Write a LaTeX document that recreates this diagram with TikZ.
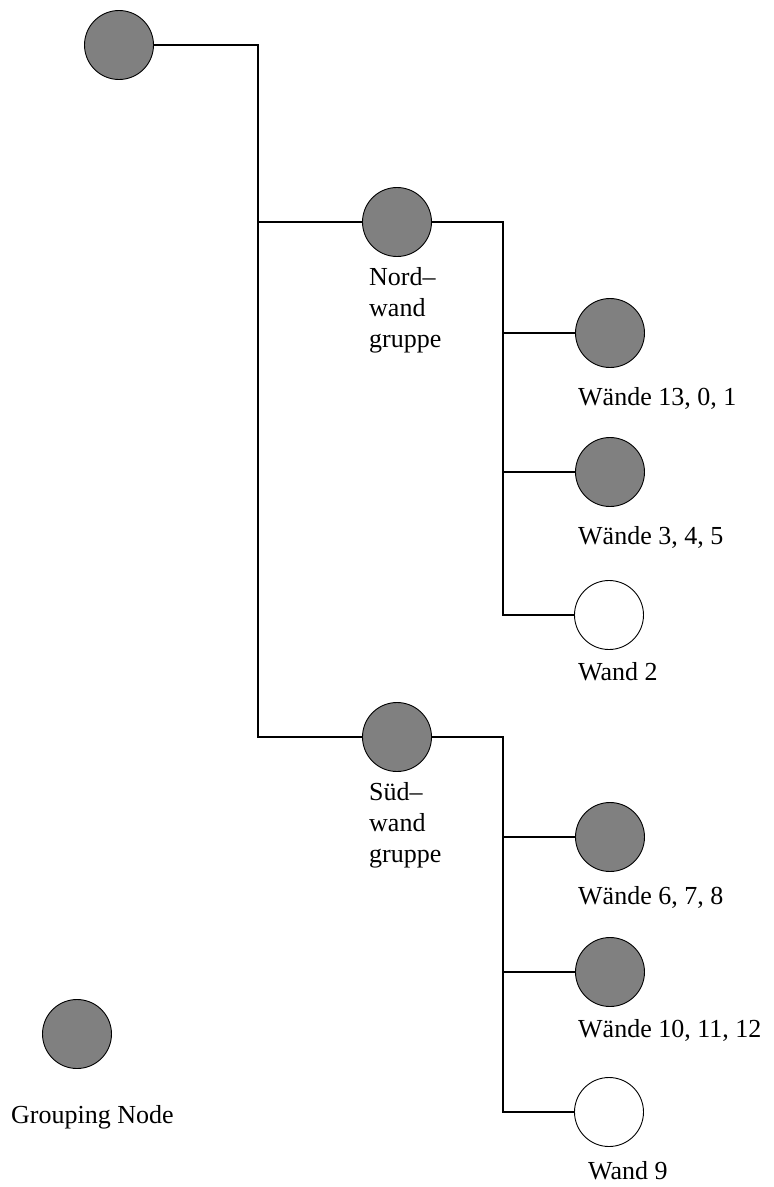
\documentclass[tikz,border=0pt]{standalone}
\usepackage{fontspec}
\setmainfont{Liberation Serif}
\begin{document}
\begin{tikzpicture}[x=1pt,y=-1pt,
  grp/.style={circle,draw=black,line width=0.9pt,fill=black!50,minimum size=69pt,inner sep=0pt},
  leaf/.style={circle,draw=black,line width=0.9pt,fill=white,minimum size=69pt,inner sep=0pt},
  lbl/.style={anchor=base west,inner sep=0pt,font=\fontsize{26}{31}\selectfont,align=left},
  wire/.style={line width=1.1pt,black}]
\useasboundingbox (0,0) rectangle (774,1187);

% tree nodes
\node[grp] (root) at (119,45) {};
\node[grp] (nord) at (397,222) {};
\node[grp] (sued) at (397,737) {};
\node[grp] (w1301) at (610,333) {};
\node[grp] (w345) at (610,472) {};
\node[leaf] (w2) at (609,615) {};
\node[grp] (w678) at (610,837) {};
\node[grp] (w101112) at (610,972) {};
\node[leaf] (w9) at (609,1112) {};
\node[grp] (legend) at (77,1034) {};

% junction columns
\coordinate (j0) at (258,45);
\coordinate (jn) at (503,222);
\coordinate (js) at (503,737);

% connectors
\draw[wire] (root.east) -- (j0) |- (sued.west);
\draw[wire] (j0 |- nord.west) -- (nord.west);
\draw[wire] (nord.east) -- (jn) |- (w2.west);
\draw[wire] (jn |- w1301.west) -- (w1301.west);
\draw[wire] (jn |- w345.west) -- (w345.west);
\draw[wire] (sued.east) -- (js) |- (w9.west);
\draw[wire] (js |- w678.west) -- (w678.west);
\draw[wire] (js |- w101112.west) -- (w101112.west);

% labels (multi-line ones are placed by the baseline of their last line)
\node[lbl] (tnord) at (369,347) {Nord–\\wand\\gruppe};
\node[lbl] (tsued) at (369,862) {Süd–\\wand\\gruppe};
\node[lbl] (t1301) at (578,405) {Wände 13, 0, 1};
\node[lbl] (t345) at (578,544) {Wände 3, 4, 5};
\node[lbl] (t2) at (578,680) {Wand 2};
\node[lbl] (t678) at (578,904) {Wände 6, 7, 8};
\node[lbl] (t101112) at (578,1037) {Wände 10, 11, 12};
\node[lbl] (t9) at (588,1179) {Wand 9};
\node[lbl] (tlegend) at (11,1123) {Grouping Node};
\end{tikzpicture}
\end{document}
